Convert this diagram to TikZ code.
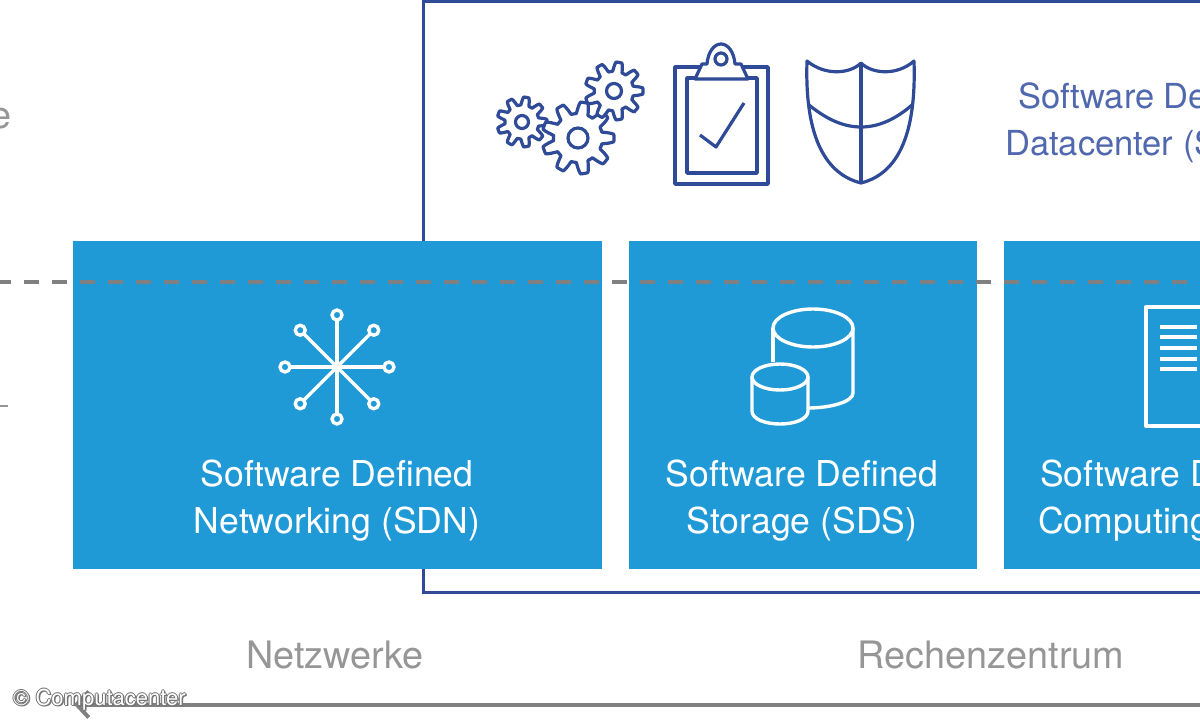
\documentclass[tikz,border=0pt]{standalone}
\usepackage{fontspec}
\setmainfont{TeX Gyre Heros}
\usetikzlibrary{arrows.meta,calc}
\definecolor{sdblue}{HTML}{1F9AD6}
\definecolor{sdnavy}{HTML}{2F4A96}
\definecolor{sdsoft}{HTML}{5068AE}
\definecolor{sdgrey}{HTML}{969696}
\definecolor{sdline}{HTML}{808080}
\tikzset{
  boxtext/.style={text=white,font=\fontsize{35.6}{47}\selectfont,align=center},
  labeltext/.style={text=sdgrey,font=\fontsize{37.8}{47}\selectfont},
  navytext/.style={text=sdsoft,font=\fontsize{34.5}{47}\selectfont},
  navyicon/.style={draw=sdnavy,line width=3.2pt,line join=round},
  whiteicon/.style={draw=white,line width=3.4pt,line join=round},
}
\begin{document}
\begin{tikzpicture}[x=1pt,y=-1pt]
\useasboundingbox (0,0) rectangle (1200,720);
\clip (0,0) rectangle (1200,720);
\fill[white] (0,0) rectangle (1200,720);
% outer frame
\draw[sdnavy,line width=3pt] (1210,1.5)--(423,1.5)--(423,592)--(1210,592);
% blue boxes
\fill[sdblue] (73,241) rectangle (602,569);
\fill[sdblue] (629,241) rectangle (977,569);
\fill[sdblue] (1004,241) rectangle (1210,569);
% dashed line
\draw[sdline,line width=3.2pt,dash pattern=on 15pt off 13pt,dash phase=4pt] (0,282)--(1200,282);
% gears
\foreach \cx/\cy/\rr/\hole in {522/122/25/6.5, 578/138/36/10, 614/91/29/7.5}{
  \draw[navyicon,fill=white] plot[domain=0:360,samples=181]
    ({\cx+\rr*(0.84+0.16*max(-1,min(1,1.8*cos(9*\x))))*cos(\x)},
     {\cy+\rr*(0.84+0.16*max(-1,min(1,1.8*cos(9*\x))))*sin(\x)}) -- cycle;
  \draw[navyicon] (\cx,\cy) circle (\hole);
}
% clipboard
\draw[navyicon,line width=3.6pt] (675,67) rectangle (768,184);
\draw[navyicon,line width=3.6pt] (687,78) rectangle (757,173);
\draw[navyicon,fill=white] (695,79)--(702,64)--(707,64)
  .. controls (708,52) and (714,44) .. (721,44)
  .. controls (728,44) and (734,52) .. (735,64)
  --(741,64)--(748,79)--cycle;
\draw[navyicon] (721,59) circle (6);
\draw[navyicon] (700,135)--(716,147)--(744,103);
% shield
\draw[navyicon] (807,61) .. controls (825,76) and (850,74) .. (861,63)
  .. controls (872,74) and (897,76) .. (914,61)
  .. controls (916,120) and (905,172) .. (861,183)
  .. controls (817,172) and (805,120) .. (807,61) -- cycle;
\draw[navyicon] (861,63)--(861,183);
\draw[navyicon] (809,105) .. controls (825,118) and (842,127) .. (861,127)
  .. controls (880,127) and (897,118) .. (912,105);
% network star
\coordinate (hub) at (337,367);
\fill[white] (hub) circle (5);
\foreach \a in {0,45,...,315}{
  \draw[whiteicon] (hub)--($(hub)+(\a:47)$);
  \draw[whiteicon] ($(hub)+(\a:52)$) circle (5);
}
% cylinders
\draw[whiteicon] (813,328) ellipse (40 and 19);
\draw[whiteicon] (773,328)--(773,362);
\draw[whiteicon] (853,328)--(853,393) .. controls (853,402) and (830,408) .. (808,408);
\draw[whiteicon] (780,377) ellipse (28 and 13);
\draw[whiteicon] (752,377)--(752,411) .. controls (752,419) and (765,424) .. (780,424)
  .. controls (795,424) and (808,419) .. (808,411)--(808,377);
% server sheet
\draw[whiteicon] (1210,307)--(1146,307)--(1146,426)--(1210,426);
\foreach \yy in {327,337,348,359,369}{
  \draw[white,line width=3.4pt] (1160,\yy)--(1197,\yy);
}
% box labels
\node[boxtext,anchor=base] (sdn1) at (337,486) {Software Defined};
\node[boxtext,anchor=base] (sdn2) at (337,533) {Networking (SDN)};
\node[boxtext,anchor=base] (sds1) at (802,486) {Software Defined};
\node[boxtext,anchor=base] (sds2) at (802,533) {Storage (SDS)};
\node[boxtext,anchor=base west,inner sep=0pt] (sdc1) at (1040,486) {Software D};
\node[boxtext,anchor=base west,inner sep=0pt] (sdc2) at (1038,533) {Computing};
\node[navytext,anchor=base west,inner sep=0pt] (sddc1) at (1018,108) {Software De};
\node[navytext,anchor=base west,inner sep=0pt] (sddc2) at (1005,155) {Datacenter (S};
% grey labels
\node[labeltext,anchor=base east,inner sep=0pt] (cut) at (12,128) {e};
\draw[sdgrey,line width=2pt] (0,406)--(8,406);
\node[labeltext,anchor=base] (netz) at (335,668) {Netzwerke};
\node[labeltext,anchor=base] (rz) at (991,668) {Rechenzentrum};
% bottom arrow
\coordinate (axisr) at (1210,704.5);
\coordinate (axisl) at (74,704.5);
\draw[sdline,line width=4pt,-{Straight Barb[length=12pt,width=26pt]}] (axisr)--(axisl);
% credit
\foreach \dx/\dy in {-1/0,1/0,0/-1,0/1,1.5/1.5}{
  \node[text=black!55,font=\fontsize{22}{25}\selectfont,anchor=base west,inner sep=0pt] (shade) at (13+\dx,705+\dy) {© Computacenter};
}
\node[text=white,font=\fontsize{22}{25}\selectfont,anchor=base west,inner sep=0pt] (credit) at (13,705) {© Computacenter};
\end{tikzpicture}
\end{document}
